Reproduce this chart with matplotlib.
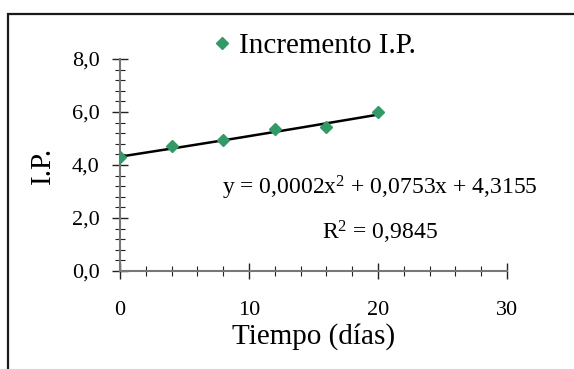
import numpy as np
import matplotlib
matplotlib.use('Agg')
import matplotlib.pyplot as plt
from matplotlib.patches import Rectangle
from matplotlib.ticker import MultipleLocator, FuncFormatter

plt.rcParams['font.family'] = ['Liberation Serif', 'DejaVu Serif']
plt.rcParams['mathtext.fontset'] = 'custom'
plt.rcParams['mathtext.rm'] = 'Liberation Serif'
plt.rcParams['mathtext.it'] = 'Liberation Serif:italic'

# datos
tiempo = [0, 4, 8, 12, 16, 20]
incremento_ip = [4.30, 4.72, 4.94, 5.36, 5.43, 6.00]
coef = [0.0002, 0.0753, 4.3155]   # tendencia polinómica (orden 2)
r2 = 0.9845

W, H = 574, 369
fig = plt.figure(figsize=(W / 100, H / 100), dpi=100)

# marco del gráfico (recortado a la derecha y abajo)
fig.patches.append(Rectangle((8 / W, -0.2), 1.2, 1.2 - 14 / H,
                             transform=fig.transFigure, fill=False,
                             edgecolor='#1a1a1a', linewidth=1.6))

ax = fig.add_axes([120 / W, 1 - 271 / H, (507 - 120) / W, (271 - 59) / H])

xs = np.linspace(0, 20, 200)
ax.plot(xs, np.polyval(coef, xs), color='black', lw=1.8, zorder=2)
ax.plot(tiempo, incremento_ip, 'D', color='#339966', ms=6.5, mec='#339966',
        lw=0, label='Incremento I.P.', zorder=3)

ax.set_xlim(0, 30)
ax.set_ylim(0, 8)
ax.xaxis.set_major_locator(MultipleLocator(10))
ax.xaxis.set_minor_locator(MultipleLocator(2))
ax.yaxis.set_major_locator(MultipleLocator(2))
ax.yaxis.set_minor_locator(MultipleLocator(0.4))
ax.yaxis.set_major_formatter(FuncFormatter(lambda v, p: f'{v:.1f}'.replace('.', ',')))

for s in ['top', 'right']:
    ax.spines[s].set_visible(False)
for s in ['left', 'bottom']:
    ax.spines[s].set_color('#777777')
    ax.spines[s].set_linewidth(1.5)
ax.tick_params(which='major', direction='inout', length=11, width=1, color='#222222',
               labelsize=16, pad=9)
ax.tick_params(which='minor', direction='inout', length=7, width=0.8, color='#222222')
ax.tick_params(axis='x', pad=16)

ax.set_xlabel('Tiempo (días)', fontsize=21, labelpad=2)
ax.set_ylabel('I.P.', fontsize=21, labelpad=12)

ax.legend(loc='center left', bbox_to_anchor=(207 / W, 1 - 46 / H),
          bbox_transform=fig.transFigure, frameon=False, fontsize=21,
          handletextpad=0.1, handlelength=1.0, borderpad=0, borderaxespad=0,
          markerscale=0.9)

ax.text(380 / W, 1 - 195 / H, f'y = {coef[0]:.4f}'.replace('.', ',') + 'x$^{2}$ + '
        + f'{coef[1]:.4f}'.replace('.', ',') + 'x + ' + f'{coef[2]:.4f}'.replace('.', ','),
        transform=fig.transFigure, fontsize=17, ha='center', va='baseline')
ax.text(380 / W, 1 - 240 / H, 'R$^{2}$ = ' + f'{r2:.4f}'.replace('.', ','),
        transform=fig.transFigure, fontsize=17, ha='center', va='baseline')

fig.savefig('out.png', dpi=100)
